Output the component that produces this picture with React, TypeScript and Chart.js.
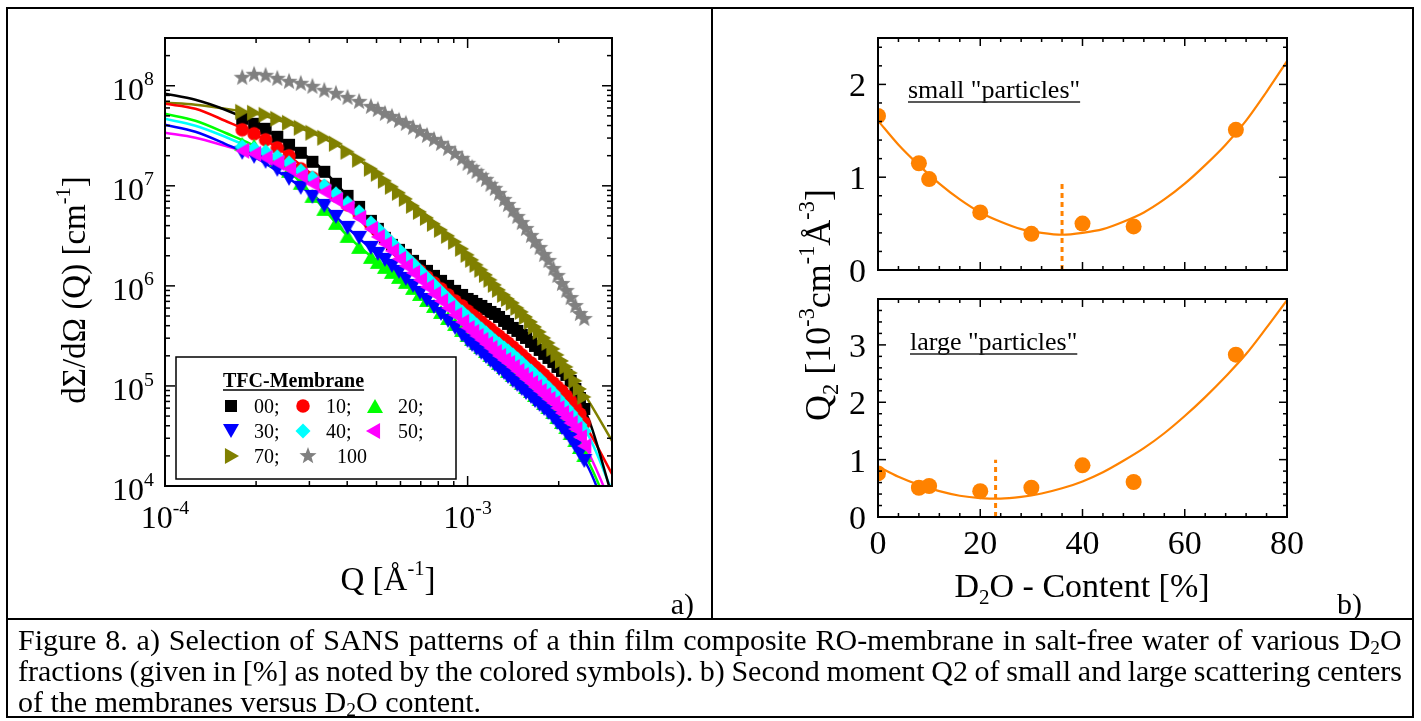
import React, { useEffect, useRef } from 'react';
import { Chart, registerables } from 'chart.js';

Chart.register(...registerables);

const FONT = '"Liberation Serif", "Times New Roman", Times, serif';

// ---------- Panel a): SANS patterns ----------
// Scattering vector Q [1/Å] of the measured points
const Q_DATA = [
  1.80e-4, 1.97e-4, 2.15e-4, 2.35e-4, 2.57e-4, 2.81e-4, 3.07e-4, 3.36e-4, 3.67e-4, 4.01e-4, 4.38e-4, 4.79e-4,
  5.05e-4, 5.33e-4, 5.62e-4, 5.93e-4, 6.25e-4, 6.60e-4, 6.96e-4, 7.34e-4, 7.74e-4, 8.17e-4, 8.62e-4, 9.09e-4, 9.59e-4,
  1.000e-3, 1.035e-3, 1.070e-3, 1.110e-3, 1.150e-3, 1.190e-3, 1.230e-3, 1.270e-3, 1.320e-3, 1.360e-3, 1.410e-3,
  1.460e-3, 1.510e-3, 1.560e-3, 1.620e-3, 1.670e-3, 1.730e-3, 1.790e-3, 1.850e-3, 1.920e-3, 1.980e-3, 2.050e-3,
  2.120e-3, 2.190e-3, 2.270e-3, 2.350e-3, 2.430e-3,
];

// log10 of dΣ/dΩ [1/cm] for each D2O fraction
const LOG_I_00 = [
  7.67, 7.62, 7.57, 7.49, 7.41, 7.33, 7.24, 7.14, 7.02, 6.90, 6.79, 6.65,
  6.57, 6.48, 6.41, 6.36, 6.31, 6.25, 6.20, 6.15, 6.10, 6.05, 6.00, 5.95, 5.91,
  5.87, 5.85, 5.82, 5.80, 5.77, 5.74, 5.72, 5.69, 5.65, 5.62, 5.58, 5.55, 5.51, 5.48, 5.44, 5.40, 5.36, 5.32,
  5.28, 5.24, 5.19, 5.15, 5.11, 5.05, 4.97, 4.88, 4.77,
];
const LOG_I_10 = [
  7.56, 7.52, 7.46, 7.38, 7.30, 7.17, 7.08, 6.99, 6.90, 6.81, 6.72, 6.61,
  6.55, 6.48, 6.41, 6.34, 6.28, 6.21, 6.15, 6.09, 6.03, 5.97, 5.91, 5.85, 5.80,
  5.75, 5.71, 5.68, 5.64, 5.60, 5.57, 5.53, 5.50, 5.46, 5.43, 5.39, 5.35, 5.31, 5.27, 5.23, 5.19, 5.15, 5.11,
  5.07, 5.03, 4.99, 4.95, 4.90, 4.85, 4.79, 4.72, 4.63,
];
const LOG_I_20 = [
  7.42, 7.40, 7.35, 7.26, 7.15, 7.03, 6.90, 6.77, 6.63, 6.50, 6.39, 6.29,
  6.24, 6.19, 6.14, 6.09, 6.04, 5.98, 5.92, 5.86, 5.80, 5.74, 5.68, 5.62, 5.56,
  5.51, 5.47, 5.43, 5.39, 5.35, 5.31, 5.27, 5.23, 5.19, 5.15, 5.11, 5.07, 5.03, 4.99, 4.95, 4.91, 4.87, 4.83,
  4.79, 4.74, 4.69, 4.64, 4.59, 4.53, 4.46, 4.39, 4.31,
];
const LOG_I_30 = [
  7.33, 7.29, 7.24, 7.16, 7.07, 6.98, 6.89, 6.80, 6.69, 6.58, 6.48, 6.38,
  6.32, 6.26, 6.20, 6.14, 6.07, 6.00, 5.93, 5.86, 5.79, 5.72, 5.65, 5.58, 5.51,
  5.45, 5.41, 5.37, 5.33, 5.29, 5.25, 5.21, 5.17, 5.13, 5.09, 5.05, 5.01, 4.97, 4.93, 4.89, 4.85, 4.81, 4.77,
  4.73, 4.68, 4.63, 4.58, 4.53, 4.47, 4.40, 4.33, 4.25,
];
const LOG_I_40 = [
  7.39, 7.37, 7.34, 7.29, 7.23, 7.15, 7.08, 7.00, 6.92, 6.83, 6.74, 6.63,
  6.57, 6.50, 6.43, 6.36, 6.29, 6.22, 6.15, 6.08, 6.01, 5.94, 5.87, 5.80, 5.74,
  5.69, 5.65, 5.61, 5.57, 5.53, 5.49, 5.45, 5.42, 5.38, 5.35, 5.31, 5.27, 5.23, 5.19, 5.15, 5.11, 5.07, 5.02,
  4.98, 4.93, 4.88, 4.83, 4.78, 4.73, 4.67, 4.61, 4.55,
];
const LOG_I_50 = [
  7.35, 7.32, 7.28, 7.23, 7.17, 7.10, 7.02, 6.94, 6.86, 6.78, 6.68, 6.57,
  6.49, 6.42, 6.35, 6.27, 6.20, 6.13, 6.06, 5.99, 5.92, 5.85, 5.78, 5.71, 5.64,
  5.58, 5.54, 5.50, 5.46, 5.42, 5.38, 5.34, 5.30, 5.26, 5.23, 5.19, 5.15, 5.11, 5.07, 5.03, 4.99, 4.95, 4.91,
  4.87, 4.83, 4.78, 4.73, 4.68, 4.63, 4.57, 4.49, 4.40,
];
const LOG_I_70 = [
  7.74, 7.73, 7.71, 7.67, 7.63, 7.58, 7.53, 7.48, 7.42, 7.34, 7.26, 7.17,
  7.12, 7.05, 6.99, 6.93, 6.87, 6.80, 6.74, 6.68, 6.62, 6.56, 6.50, 6.44, 6.37,
  6.31, 6.26, 6.21, 6.16, 6.11, 6.06, 6.01, 5.96, 5.91, 5.87, 5.83, 5.78, 5.74, 5.69, 5.64, 5.59, 5.54, 5.48,
  5.43, 5.37, 5.31, 5.25, 5.19, 5.13, 5.05, 4.97, 4.89,
];
const LOG_I_100 = [
  8.08, 8.11, 8.10, 8.07, 8.04, 8.02, 7.99, 7.95, 7.92, 7.88, 7.84, 7.79,
  7.76, 7.72, 7.69, 7.65, 7.62, 7.58, 7.54, 7.50, 7.46, 7.42, 7.37, 7.32, 7.27,
  7.22, 7.18, 7.14, 7.10, 7.06, 7.01, 6.97, 6.92, 6.86, 6.81, 6.75, 6.69, 6.63, 6.57, 6.50, 6.44, 6.38, 6.31,
  6.25, 6.17, 6.10, 6.02, 5.95, 5.88, 5.80, 5.72, 5.67,
];

// Model curves: Q grid and log10 intensities
const Q_FIT = [
  1.00e-4, 1.26e-4, 1.58e-4, 2.00e-4, 2.51e-4, 3.16e-4, 3.98e-4, 5.01e-4,
  6.31e-4, 7.94e-4, 1.00e-3, 1.26e-3, 1.58e-3, 2.00e-3, 2.51e-3, 3.00e-3,
];
const FIT_00 = [7.92, 7.86, 7.76, 7.62, 7.43, 7.22, 6.91, 6.58, 6.30, 6.07, 5.87, 5.70, 5.46, 5.19, 4.67, 3.90];
const FIT_10 = [7.82, 7.77, 7.65, 7.51, 7.32, 7.08, 6.83, 6.57, 6.28, 6.01, 5.75, 5.51, 5.26, 4.99, 4.55, 4.12];
const FIT_20 = [7.72, 7.65, 7.53, 7.39, 7.18, 6.86, 6.51, 6.25, 6.03, 5.77, 5.51, 5.24, 4.97, 4.69, 4.24, 3.70];
const FIT_30 = [7.61, 7.54, 7.42, 7.28, 7.09, 6.88, 6.59, 6.32, 6.06, 5.76, 5.45, 5.16, 4.91, 4.63, 4.18, 3.60];
const FIT_40 = [7.67, 7.60, 7.49, 7.36, 7.25, 7.06, 6.84, 6.58, 6.28, 5.98, 5.69, 5.43, 5.17, 4.88, 4.50, 3.95];
const FIT_50 = [7.53, 7.48, 7.40, 7.31, 7.19, 7.01, 6.79, 6.48, 6.20, 5.90, 5.58, 5.29, 5.05, 4.78, 4.33, 3.80];
const FIT_70 = [7.83, 7.81, 7.77, 7.72, 7.63, 7.51, 7.35, 7.12, 6.87, 6.61, 6.31, 5.98, 5.66, 5.30, 4.85, 4.45];

// Axis ranges and decade labels of panel a)
const Q_MIN = 1e-4;
const Q_MAX = 3e-3;
const I_MIN = 1e4;
const I_MAX = 3e8;
const Q_DECADES = [-4, -3];
const I_DECADES = [4, 5, 6, 7, 8];

const SERIES = [
  { label: '00;', color: '#000000', marker: 'square', values: LOG_I_00, fit: FIT_00 },
  { label: '10;', color: '#ff0000', marker: 'circle', values: LOG_I_10, fit: FIT_10 },
  { label: '20;', color: '#00ff00', marker: 'triUp', values: LOG_I_20, fit: FIT_20 },
  { label: '30;', color: '#0000ff', marker: 'triDown', values: LOG_I_30, fit: FIT_30 },
  { label: '40;', color: '#00ffff', marker: 'diamond', values: LOG_I_40, fit: FIT_40 },
  { label: '50;', color: '#ff00ff', marker: 'triLeft', values: LOG_I_50, fit: FIT_50 },
  { label: '70;', color: '#808000', marker: 'triRight', values: LOG_I_70, fit: FIT_70 },
  { label: '100', color: '#808080', marker: 'star', values: LOG_I_100, fit: null },
];

// ---------- Panel b): second moment Q2 vs D2O content ----------
const D2O = [0, 8, 10, 20, 30, 40, 50, 70];
const Q2_SMALL = [1.66, 1.15, 0.98, 0.62, 0.39, 0.50, 0.47, 1.51];
const Q2_LARGE = [0.76, 0.51, 0.54, 0.45, 0.51, 0.90, 0.61, 2.83];
const D2O_FIT = [0, 4, 8, 12, 16, 20, 24, 28, 32, 36, 40, 44, 48, 52, 56, 60, 64, 68, 72, 76, 80];
const Q2_SMALL_FIT = [1.61, 1.35, 1.13, 0.93, 0.76, 0.62, 0.52, 0.44, 0.40, 0.38, 0.40, 0.44, 0.52, 0.62, 0.76, 0.93, 1.13, 1.35, 1.61, 1.92, 2.25];
const Q2_LARGE_FIT = [0.88, 0.70, 0.56, 0.45, 0.37, 0.33, 0.32, 0.35, 0.41, 0.50, 0.62, 0.78, 0.98, 1.20, 1.46, 1.76, 2.09, 2.45, 2.84, 3.30, 3.78];
const MATCH_SMALL = 36;
const MATCH_SMALL_TOP = 0.93;
const MATCH_LARGE = 23;
const MATCH_LARGE_TOP = 1.0;
const D2O_TICKS = [0, 20, 40, 60, 80];
const ORANGE = '#ff8200';

// Caption lines
const CAPTION_1 = 'Figure 8. a) Selection of SANS patterns of a thin film composite RO-membrane in salt-free water of various D₂O';
const CAPTION_2 = 'fractions (given in [%] as noted by the colored symbols). b) Second moment Q2 of small and large scattering centers';
const CAPTION_3 = 'of the membranes versus D₂O content.';

// ---------- drawing helpers ----------
const MARKER_SIZE: Record<string, number> = {
  square: 12, circle: 13.5, triUp: 16, triDown: 16, diamond: 15, triLeft: 16, triRight: 16, star: 18,
};

function traceMarker(ctx: CanvasRenderingContext2D, kind: string, x: number, y: number) {
  const s = MARKER_SIZE[kind];
  const r = s / 2;
  const h = (s * 0.88) / 2;
  ctx.beginPath();
  switch (kind) {
    case 'square':
      ctx.rect(x - r, y - r, s, s);
      break;
    case 'circle':
      ctx.arc(x, y, r, 0, Math.PI * 2);
      break;
    case 'triUp':
      ctx.moveTo(x, y - h); ctx.lineTo(x + r, y + h); ctx.lineTo(x - r, y + h);
      break;
    case 'triDown':
      ctx.moveTo(x, y + h); ctx.lineTo(x - r, y - h); ctx.lineTo(x + r, y - h);
      break;
    case 'triLeft':
      ctx.moveTo(x - h, y); ctx.lineTo(x + h, y - r); ctx.lineTo(x + h, y + r);
      break;
    case 'triRight':
      ctx.moveTo(x + h, y); ctx.lineTo(x - h, y - r); ctx.lineTo(x - h, y + r);
      break;
    case 'diamond':
      ctx.moveTo(x, y - r); ctx.lineTo(x + r, y); ctx.lineTo(x, y + r); ctx.lineTo(x - r, y);
      break;
    case 'star':
      for (let k = 0; k < 10; k++) {
        const a = -Math.PI / 2 + (k * Math.PI) / 5;
        const rr = k % 2 ? r * 0.42 : r;
        const px = x + rr * Math.cos(a);
        const py = y + rr * Math.sin(a);
        if (k === 0) ctx.moveTo(px, py); else ctx.lineTo(px, py);
      }
      break;
  }
  ctx.closePath();
}

function markerImage(kind: string, color: string) {
  const c = document.createElement('canvas');
  c.width = 24;
  c.height = 24;
  const g = c.getContext('2d')!;
  g.fillStyle = color;
  traceMarker(g, kind, 12, 12);
  g.fill();
  return c;
}

type Seg = { t: string; k?: 'sup' | 'sub' };

function drawRich(
  ctx: CanvasRenderingContext2D, segs: Seg[], x: number, y: number, size: number,
  align: 'left' | 'center' | 'right', rotate = false, weight = '',
) {
  const small = size * 0.62;
  const fontOf = (s: Seg) => `${weight} ${s.k ? small : size}px ${FONT}`;
  const widths = segs.map((s) => { ctx.font = fontOf(s); return ctx.measureText(s.t).width; });
  const total = widths.reduce((a, b) => a + b, 0);
  ctx.save();
  ctx.translate(x, y);
  if (rotate) ctx.rotate(-Math.PI / 2);
  ctx.textAlign = 'left';
  ctx.textBaseline = 'alphabetic';
  ctx.fillStyle = '#000';
  let cx = align === 'left' ? 0 : align === 'center' ? -total / 2 : -total;
  segs.forEach((s, i) => {
    ctx.font = fontOf(s);
    const dy = s.k === 'sup' ? -size * 0.45 : s.k === 'sub' ? size * 0.22 : 0;
    ctx.fillText(s.t, cx, dy);
    cx += widths[i];
  });
  ctx.restore();
  return total;
}

function seg(ctx: CanvasRenderingContext2D, x1: number, y1: number, x2: number, y2: number) {
  ctx.beginPath();
  ctx.moveTo(x1, y1);
  ctx.lineTo(x2, y2);
  ctx.stroke();
}

function logTicks(min: number, max: number) {
  const out: { v: number; major: boolean }[] = [];
  for (let e = Math.floor(Math.log10(min)); e <= Math.ceil(Math.log10(max)); e++) {
    for (let m = 1; m <= 9; m++) {
      const v = m * Math.pow(10, e);
      if (v >= min * 0.999 && v <= max * 1.001) out.push({ v, major: m === 1 });
    }
  }
  return out;
}

// Key slots [marker x, text x] for the 3-column key of panel a)
const LEGEND_SLOTS = [[231, 254], [303, 326], [375, 398], [231, 254], [303, 326], [373, 398], [232, 254], [308, 337]];

const panelAPlugin = {
  id: 'panelADecor',
  afterDraw(chart: any) {
    const { ctx, chartArea: a, scales } = chart;
    const xs = scales.x;
    const ys = scales.y;
    ctx.save();
    ctx.strokeStyle = '#000';
    ctx.lineWidth = 1.5;
    for (const t of logTicks(Q_MIN, Q_MAX)) {
      const px = xs.getPixelForValue(t.v);
      const len = t.major ? 10 : 5;
      seg(ctx, px, a.bottom, px, a.bottom - len);
      seg(ctx, px, a.top, px, a.top + len);
    }
    for (const t of logTicks(I_MIN, I_MAX)) {
      const py = ys.getPixelForValue(t.v);
      const len = t.major ? 10 : 5;
      seg(ctx, a.left, py, a.left + len, py);
      seg(ctx, a.right, py, a.right - len, py);
    }
    ctx.lineWidth = 2;
    ctx.strokeRect(a.left, a.top, a.right - a.left, a.bottom - a.top);

    for (const e of I_DECADES) {
      const py = ys.getPixelForValue(Math.pow(10, e));
      drawRich(ctx, [{ t: '10' }, { t: String(e), k: 'sup' }], a.left - 11, py + 14, 32, 'right');
    }
    for (const e of Q_DECADES) {
      const px = xs.getPixelForValue(Math.pow(10, e));
      drawRich(ctx, [{ t: '10' }, { t: String(e), k: 'sup' }], px, 528, 32, 'center');
    }

    drawRich(ctx, [{ t: 'dΣ/dΩ (Q) [cm' }, { t: '-1', k: 'sup' }, { t: ']' }], 85, 290, 33, 'center', true);
    drawRich(ctx, [{ t: 'Q [Å' }, { t: '-1', k: 'sup' }, { t: ']' }], 388, 590, 33, 'center');
    drawRich(ctx, [{ t: 'a)' }], 694, 614, 30, 'right');

    // key
    ctx.fillStyle = '#fff';
    ctx.fillRect(176, 357, 280, 122);
    ctx.lineWidth = 1.5;
    ctx.strokeStyle = '#000';
    ctx.strokeRect(176, 357, 280, 122);
    const tw = drawRich(ctx, [{ t: 'TFC-Membrane' }], 223, 387, 20, 'left', false, 'bold');
    ctx.lineWidth = 1.5;
    seg(ctx, 223, 390, 223 + tw, 390);
    SERIES.forEach((s, i) => {
      const [mx, tx] = LEGEND_SLOTS[i];
      const cy = 406 + Math.floor(i / 3) * 25;
      ctx.fillStyle = s.color;
      traceMarker(ctx, s.marker, mx, cy);
      ctx.fill();
      drawRich(ctx, [{ t: s.label }], tx, cy + 7, 20, 'left');
    });
    ctx.restore();
  },
};

function buildPanelA(canvas: HTMLCanvasElement) {
  const datasets: any[] = [];
  SERIES.forEach((s, i) => {
    if (s.fit) {
      datasets.push({
        data: Q_FIT.map((q, j) => ({ x: q, y: Math.pow(10, s.fit![j]) })),
        showLine: true,
        borderColor: s.color,
        borderWidth: 2.5,
        pointRadius: 0,
        cubicInterpolationMode: 'monotone',
        order: 100,
      });
    }
    datasets.push({
      data: Q_DATA.map((q, j) => ({ x: q, y: Math.pow(10, s.values[j]) })),
      showLine: false,
      pointStyle: markerImage(s.marker, s.color),
      pointRadius: 7,
      order: 50 - i,
    });
  });
  return new Chart(canvas, {
    type: 'scatter',
    data: { datasets },
    options: {
      animation: false,
      responsive: false,
      devicePixelRatio: 1,
      events: [],
      layout: { padding: { left: 165, top: 38, right: 100, bottom: 133 } },
      scales: {
        x: { type: 'logarithmic', min: Q_MIN, max: Q_MAX, display: false },
        y: { type: 'logarithmic', min: I_MIN, max: I_MAX, display: false },
      },
      plugins: { legend: { display: false }, tooltip: { enabled: false } },
    } as any,
    plugins: [panelAPlugin],
  });
}

type PanelB = {
  padTop: number;
  padBottom: number;
  yMax: number;
  yLabels: number[];
  values: number[];
  fit: number[];
  matchX: number;
  matchTop: number;
  label: string;
  labelX: number;
  labelY: number;
  bottomAxis: boolean;
};

function buildPanelB(canvas: HTMLCanvasElement, p: PanelB) {
  const decor = {
    id: 'panelBDecor',
    afterDraw(chart: any) {
      const { ctx, chartArea: a, scales } = chart;
      const xs = scales.x;
      const ys = scales.y;
      ctx.save();
      ctx.strokeStyle = '#000';
      ctx.lineWidth = 1.5;
      for (let k = 0; k * 4 <= 80; k++) {
        const px = xs.getPixelForValue(k * 4);
        const len = k % 5 === 0 ? 8 : 4;
        seg(ctx, px, a.bottom, px, a.bottom - len);
        seg(ctx, px, a.top, px, a.top + len);
      }
      for (let k = 0; k * 0.2 <= p.yMax + 1e-9; k++) {
        const py = ys.getPixelForValue(k * 0.2);
        const len = k % 5 === 0 ? 8 : 4;
        seg(ctx, a.left, py, a.left + len, py);
        seg(ctx, a.right, py, a.right - len, py);
      }
      ctx.lineWidth = 2;
      ctx.strokeRect(a.left, a.top, a.right - a.left, a.bottom - a.top);
      for (const v of p.yLabels) {
        drawRich(ctx, [{ t: String(v) }], a.left - 12, ys.getPixelForValue(v) + 12, 34, 'right');
      }
      const w = drawRich(ctx, [{ t: p.label }], p.labelX, p.labelY, 26, 'left');
      ctx.lineWidth = 1.3;
      ctx.strokeStyle = '#222';
      seg(ctx, p.labelX, p.labelY + 4, p.labelX + w, p.labelY + 4);
      if (p.bottomAxis) {
        for (const v of D2O_TICKS) {
          drawRich(ctx, [{ t: String(v) }], xs.getPixelForValue(v), 554, 34, 'center');
        }
        drawRich(ctx, [{ t: 'D' }, { t: '2', k: 'sub' }, { t: 'O - Content [%]' }], 370, 597, 34, 'center');
        drawRich(ctx, [{ t: 'b)' }], 650, 614, 30, 'right');
        drawRich(
          ctx,
          [{ t: 'Q' }, { t: '2', k: 'sub' }, { t: ' [10' }, { t: '-3', k: 'sup' }, { t: 'cm' }, { t: '-1', k: 'sup' },
            { t: 'Å' }, { t: '-3', k: 'sup' }, { t: ']' }],
          118, 305, 36, 'center', true,
        );
      }
      ctx.restore();
    },
  };
  return new Chart(canvas, {
    type: 'scatter',
    data: {
      datasets: [
        {
          data: D2O_FIT.map((x, j) => ({ x, y: p.fit[j] })),
          showLine: true,
          borderColor: ORANGE,
          borderWidth: 2.2,
          pointRadius: 0,
          cubicInterpolationMode: 'monotone',
          order: 3,
        },
        {
          data: [{ x: p.matchX, y: 0 }, { x: p.matchX, y: p.matchTop }],
          showLine: true,
          borderColor: ORANGE,
          borderWidth: 3,
          borderDash: [5, 4],
          pointRadius: 0,
          order: 2,
        },
        {
          data: D2O.map((x, j) => ({ x, y: p.values[j] })),
          showLine: false,
          pointStyle: 'circle',
          pointRadius: 8,
          backgroundColor: ORANGE,
          borderWidth: 0,
          order: 1,
        },
      ],
    },
    options: {
      animation: false,
      responsive: false,
      devicePixelRatio: 1,
      events: [],
      layout: { padding: { left: 166, right: 125, top: p.padTop, bottom: p.padBottom } },
      scales: {
        x: { type: 'linear', min: 0, max: 80, display: false },
        y: { type: 'linear', min: 0, max: p.yMax, display: false },
      },
      plugins: { legend: { display: false }, tooltip: { enabled: false } },
    } as any,
    plugins: [decor],
  });
}

const SMALL_PANEL: PanelB = {
  padTop: 38, padBottom: 349, yMax: 2.5, yLabels: [0, 1, 2], values: Q2_SMALL, fit: Q2_SMALL_FIT,
  matchX: MATCH_SMALL, matchTop: MATCH_SMALL_TOP, label: 'small "particles"', labelX: 196, labelY: 98, bottomAxis: false,
};
const LARGE_PANEL: PanelB = {
  padTop: 299, padBottom: 102, yMax: 3.8, yLabels: [0, 1, 2, 3], values: Q2_LARGE, fit: Q2_LARGE_FIT,
  matchX: MATCH_LARGE, matchTop: MATCH_LARGE_TOP, label: 'large "particles"', labelX: 198, labelY: 350, bottomAxis: true,
};

// Renders a word, turning the "D₂O" subscript into a real lowered digit
function Word({ w }: { w: string }) {
  const i = w.indexOf('₂');
  if (i < 0) return <span>{w}</span>;
  return (
    <span>
      {w.slice(0, i)}
      <span style={{ fontSize: '0.65em', position: 'relative', top: '0.22em' }}>2</span>
      {w.slice(i + 1)}
    </span>
  );
}

function CaptionLine({ text, top, justify }: { text: string; top: number; justify: boolean }) {
  const words = text.split(' ');
  const base: React.CSSProperties = {
    position: 'absolute',
    left: 18,
    top,
    width: 1384,
    height: 31,
    fontFamily: FONT,
    fontSize: 30,
    lineHeight: '31px',
    color: '#000',
    whiteSpace: 'nowrap',
  };
  if (!justify) {
    return (
      <div style={base}>
        {words.map((w, i) => (
          <React.Fragment key={i}>{i > 0 ? ' ' : ''}<Word w={w} /></React.Fragment>
        ))}
      </div>
    );
  }
  return (
    <div style={{ ...base, display: 'flex', justifyContent: 'space-between' }}>
      {words.map((w, i) => <Word key={i} w={w} />)}
    </div>
  );
}

export default function App() {
  const leftRef = useRef<HTMLCanvasElement>(null);
  const topRef = useRef<HTMLCanvasElement>(null);
  const botRef = useRef<HTMLCanvasElement>(null);

  useEffect(() => {
    const charts = [
      buildPanelA(leftRef.current!),
      buildPanelB(topRef.current!, SMALL_PANEL),
      buildPanelB(botRef.current!, LARGE_PANEL),
    ];
    return () => charts.forEach((c) => c.destroy());
  }, []);

  const black = '#000';
  return (
    <div style={{ position: 'absolute', left: 0, top: 0, width: 1421, height: 721, background: '#fff', overflow: 'hidden' }}>
      <canvas ref={leftRef} width={712} height={619} style={{ position: 'absolute', left: 0, top: 0 }} />
      <canvas ref={topRef} width={700} height={619} style={{ position: 'absolute', left: 712, top: 0 }} />
      <canvas ref={botRef} width={700} height={619} style={{ position: 'absolute', left: 712, top: 0 }} />

      <div style={{ position: 'absolute', left: 6, top: 7, width: 1408, height: 711, border: `2px solid ${black}`, boxSizing: 'border-box' }} />
      <div style={{ position: 'absolute', left: 711, top: 7, width: 2, height: 613, background: black }} />
      <div style={{ position: 'absolute', left: 6, top: 618, width: 1408, height: 2, background: black }} />

      <CaptionLine text={CAPTION_1} top={624} justify />
      <CaptionLine text={CAPTION_2} top={655} justify />
      <CaptionLine text={CAPTION_3} top={686} justify={false} />
    </div>
  );
}
